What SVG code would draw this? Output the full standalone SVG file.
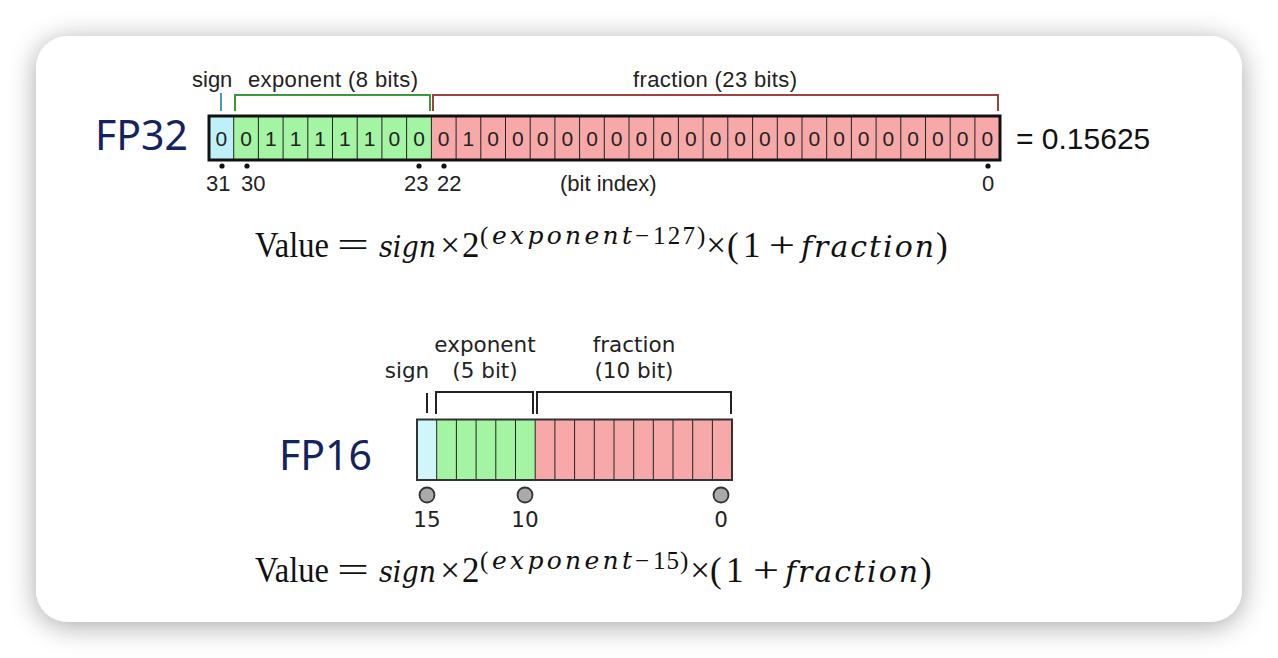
<svg xmlns="http://www.w3.org/2000/svg" width="1278" height="658" viewBox="0 0 1278 658">
<defs>
<filter id="sh" x="-10%" y="-10%" width="120%" height="125%">
<feGaussianBlur in="SourceAlpha" stdDeviation="14"/>
<feOffset dx="0" dy="4" result="b"/>
<feComponentTransfer><feFuncA type="linear" slope="0.35"/></feComponentTransfer>
<feMerge><feMergeNode/><feMergeNode in="SourceGraphic"/></feMerge>
</filter>
<style>
.lbl{font-family:"Liberation Sans",Arial,sans-serif;font-size:22px;fill:#222}
.lbl16{font-family:"DejaVu Sans",sans-serif;font-size:21.5px;fill:#222}
.bit{font-family:"Liberation Sans",Arial,sans-serif;font-size:21px;fill:#222;text-anchor:middle}
.fp{font-family:"Noto Sans",sans-serif;font-size:41px;fill:#142360}
.fm{font-family:"Liberation Serif",serif;font-size:35px;fill:#111}
.sup{font-family:"Liberation Serif",serif;font-size:25px;fill:#111}
.it{font-family:"DejaVu Serif",serif;font-style:italic;font-size:30px}
.sit{font-family:"DejaVu Serif",serif;font-style:italic;font-size:25px}
.mid{text-anchor:middle}
.cell{stroke:#222;stroke-width:1}
.dot{fill:#111}
.circ{fill:#aaa;stroke:#333;stroke-width:1.8}
</style>
</defs>
<rect width="1278" height="658" fill="#ffffff"/>
<rect x="36" y="36" width="1206" height="586" rx="32" fill="#ffffff" filter="url(#sh)"/>

<g id="fp32">
<text class="fp" x="95" y="150">FP32</text>
<g id="fp32-labels">
<text class="lbl" x="192" y="87">sign</text>
<text class="lbl" x="248" y="87" textLength="170">exponent (8 bits)</text>
<text class="lbl" x="633" y="87" textLength="164">fraction (23 bits)</text>
</g>
<g id="fp32-brackets" fill="none" stroke-width="2">
<path d="M221,93 V111" stroke="#4a9aaa"/>
<path d="M235,111 V95 H430 V111" stroke="#3a9a3a"/>
<path d="M433,111 V95 H998 V111" stroke="#a04040"/>
</g>
<g id="fp32-cells">
<rect x="209" y="116" width="24.7" height="44" fill="#bff0fa"/>
<rect x="233.7" y="116" width="197.8" height="44" fill="#a3f5a3"/>
<rect x="431.5" y="116" width="568.5" height="44" fill="#f7a8a8"/>
<path class="cell" d="M233.7,116V160M258.4,116V160M283.1,116V160M307.8,116V160M332.5,116V160M357.2,116V160M381.9,116V160M406.6,116V160M431.4,116V160M456.1,116V160M480.8,116V160M505.5,116V160M530.2,116V160M554.9,116V160M579.6,116V160M604.3,116V160M629,116V160M653.7,116V160M678.4,116V160M703.1,116V160M727.8,116V160M752.6,116V160M777.3,116V160M802,116V160M826.7,116V160M851.4,116V160M876.1,116V160M900.8,116V160M925.5,116V160M950.2,116V160M974.9,116V160"/>
<rect x="209" y="116" width="791" height="44" fill="none" stroke="#111" stroke-width="3"/>
<g class="bit">
<text x="221.4" y="146">0</text>
<text x="246.1" y="146">0</text><text x="270.8" y="146">1</text><text x="295.5" y="146">1</text><text x="320.2" y="146">1</text><text x="344.9" y="146">1</text><text x="369.6" y="146">1</text><text x="394.3" y="146">0</text><text x="419" y="146">0</text>
<text x="443.7" y="146">0</text><text x="468.4" y="146">1</text><text x="493.1" y="146">0</text><text x="517.8" y="146">0</text><text x="542.5" y="146">0</text><text x="567.3" y="146">0</text><text x="592" y="146">0</text><text x="616.7" y="146">0</text><text x="641.4" y="146">0</text><text x="666.1" y="146">0</text><text x="690.8" y="146">0</text><text x="715.5" y="146">0</text><text x="740.2" y="146">0</text><text x="764.9" y="146">0</text><text x="789.6" y="146">0</text><text x="814.3" y="146">0</text><text x="839" y="146">0</text><text x="863.7" y="146">0</text><text x="888.4" y="146">0</text><text x="913.2" y="146">0</text><text x="937.9" y="146">0</text><text x="962.6" y="146">0</text><text x="987.3" y="146">0</text>
</g>
</g>
<g id="fp32-index">
<circle class="dot" cx="222" cy="166" r="2.6"/>
<circle class="dot" cx="247" cy="166" r="2.6"/>
<circle class="dot" cx="419" cy="166" r="2.6"/>
<circle class="dot" cx="444" cy="166" r="2.6"/>
<circle class="dot" cx="988" cy="166" r="2.6"/>
<text class="lbl" x="206" y="191">31</text>
<text class="lbl" x="241" y="191">30</text>
<text class="lbl" x="404" y="191">23</text>
<text class="lbl" x="437" y="191">22</text>
<text class="lbl" x="560" y="191">(bit index)</text>
<text class="lbl mid" x="988" y="191">0</text>
</g>
<text x="1016" y="149" style="font-family:'Liberation Sans',Arial,sans-serif;font-size:30px;fill:#111">= 0.15625</text>
</g>

<g id="formula32">
<text class="fm" x="255" y="257" textLength="74" lengthAdjust="spacingAndGlyphs">Value</text>
<text class="fm mid" x="353" y="257" textLength="32" lengthAdjust="spacingAndGlyphs">=</text>
<text class="fm it" x="379" y="257" textLength="57" lengthAdjust="spacingAndGlyphs">sign</text>
<text class="fm mid" x="450" y="257">×</text>
<text class="fm" x="462" y="257">2</text>
<text class="sup" x="480" y="244">(</text>
<text class="sup sit" x="492" y="244" textLength="140">exponent</text>
<text class="sup mid" x="642" y="244">−</text>
<text class="sup" x="653" y="244" textLength="42">127</text>
<text class="sup" x="697" y="244">)</text>
<text class="fm mid" x="716" y="257">×</text>
<text class="fm" x="727" y="257">(</text>
<text class="fm" x="743" y="257">1</text>
<text class="fm mid" x="782" y="257" textLength="26" lengthAdjust="spacingAndGlyphs">+</text>
<text class="fm it" x="801" y="257" textLength="133">fraction</text>
<text class="fm" x="936" y="257">)</text>
</g>

<g id="fp16">
<text class="fp" x="279" y="470">FP16</text>
<g id="fp16-labels">
<text class="lbl16 mid" x="485" y="352">exponent</text>
<text class="lbl16 mid" x="485" y="378">(5 bit)</text>
<text class="lbl16 mid" x="634" y="352">fraction</text>
<text class="lbl16 mid" x="634" y="378">(10 bit)</text>
<text class="lbl16 mid" x="407" y="378">sign</text>
</g>
<g id="fp16-brackets" fill="none" stroke="#222" stroke-width="2">
<path d="M427,393 V413"/>
<path d="M436,414 V392 H533 V414"/>
<path d="M537,414 V392 H731 V414"/>
</g>
<g id="fp16-cells">
<rect x="417" y="419.5" width="19.7" height="60.5" fill="#cff7fb"/>
<rect x="436.7" y="419.5" width="98.5" height="60.5" fill="#a3f5a3"/>
<rect x="535.2" y="419.5" width="196.8" height="60.5" fill="#f7a8a8"/>
<path class="cell" d="M436.7,419.5V480M456.4,419.5V480M476.1,419.5V480M495.8,419.5V480M515.5,419.5V480M535.2,419.5V480M554.9,419.5V480M574.6,419.5V480M594.3,419.5V480M614,419.5V480M633.7,419.5V480M653.3,419.5V480M673,419.5V480M692.7,419.5V480M712.4,419.5V480" stroke="#333" stroke-width="1.8"/>
<rect x="417" y="419.5" width="315" height="60.5" fill="none" stroke="#333" stroke-width="2"/>
</g>
<g id="fp16-index">
<circle class="circ" cx="427" cy="495" r="7.5"/>
<circle class="circ" cx="525" cy="495" r="7.5"/>
<circle class="circ" cx="721" cy="495" r="7.5"/>
<text class="lbl16 mid" x="427" y="527">15</text>
<text class="lbl16 mid" x="525" y="527">10</text>
<text class="lbl16 mid" x="721" y="527">0</text>
</g>
</g>

<g id="formula16">
<text class="fm" x="255" y="582" textLength="74" lengthAdjust="spacingAndGlyphs">Value</text>
<text class="fm mid" x="353" y="582" textLength="32" lengthAdjust="spacingAndGlyphs">=</text>
<text class="fm it" x="379" y="582" textLength="57" lengthAdjust="spacingAndGlyphs">sign</text>
<text class="fm mid" x="450" y="582">×</text>
<text class="fm" x="462" y="582">2</text>
<text class="sup" x="480" y="569">(</text>
<text class="sup sit" x="492" y="569" textLength="140">exponent</text>
<text class="sup mid" x="642" y="569">−</text>
<text class="sup" x="653" y="569" textLength="26">15</text>
<text class="sup" x="680" y="569">)</text>
<text class="fm mid" x="700" y="582">×</text>
<text class="fm" x="710" y="582">(</text>
<text class="fm" x="726" y="582">1</text>
<text class="fm mid" x="766" y="582" textLength="26" lengthAdjust="spacingAndGlyphs">+</text>
<text class="fm it" x="785" y="582" textLength="133">fraction</text>
<text class="fm" x="920" y="582">)</text>
</g>
</svg>
